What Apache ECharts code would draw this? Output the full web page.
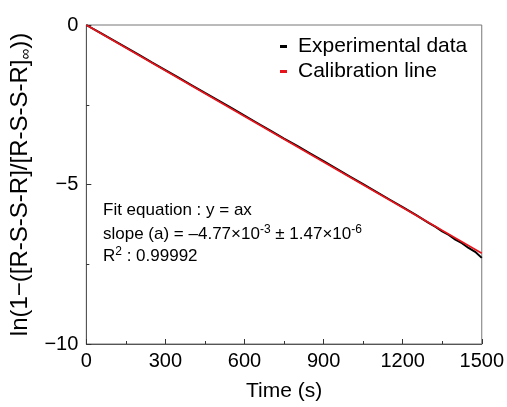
<!DOCTYPE html>
<html><head><meta charset="utf-8">
<script src="https://cdn.jsdelivr.net/npm/echarts@6/dist/echarts.min.js"></script>
<style>html,body{margin:0;padding:0;background:#fff}#c{width:507px;height:407px}</style>
</head><body><div id="c"></div>
<script>
var timeS = [0,50,100,150,200,250,300,350,400,450,500,550,600,650,700,750,800,850,900,950,1000,1050,1100,1150,1200,1250,1300,1325,1350,1375,1400,1425,1450,1475,1500];
var experimental = [0,-0.23,-0.465,-0.70,-0.94,-1.18,-1.415,-1.65,-1.89,-2.13,-2.365,-2.60,-2.84,-3.08,-3.32,-3.56,-3.79,-4.03,-4.27,-4.51,-4.75,-4.99,-5.23,-5.47,-5.71,-5.95,-6.21,-6.33,-6.47,-6.58,-6.73,-6.84,-6.99,-7.11,-7.30];
var calibTime = [0,1500];
var calibration = [0,-7.155];
var legendNames = ['Experimental data','Calibration line'];

var chart = echarts.init(document.getElementById('c'));
var font = 'Liberation Sans, Arial, sans-serif';
function pairs(xs, ys){ return xs.map(function(x,i){return [x, ys[i]];}); }
chart.setOption({
  animation:false,
  textStyle:{fontFamily:font},
  grid:{left:84,right:24,top:25,bottom:61,show:true,borderColor:'#777',borderWidth:1,backgroundColor:'transparent'},
  legend:{
    data:legendNames, orient:'vertical', left:275, top:31, itemGap:4,
    itemWidth:7, itemHeight:3, icon:'rect',
    textStyle:{fontSize:21,fontFamily:font,color:'#000',padding:[0,0,0,6]}
  },
  xAxis:{
    type:'value', min:0, max:1500, interval:300,
    name:'Time (s)', nameLocation:'middle', nameGap:37,
    nameTextStyle:{fontSize:21,fontFamily:font,color:'#000'},
    axisLine:{onZero:false,lineStyle:{color:'#555',width:1}},
    axisTick:{inside:true,length:5,lineStyle:{color:'#333'}},
    minorTick:{show:true,splitNumber:2,length:3,lineStyle:{color:'#333'}},
    axisLabel:{fontSize:20,color:'#000',margin:7,fontFamily:font,formatter:function(v){return String(v);}},
    splitLine:{show:false}
  },
  yAxis:{
    type:'value', min:-10, max:0, interval:5,
    name:'{a|ln(1−([R-S-S-R]/[R-S-S-R]}{s|∞}{a|))}', nameLocation:'middle', nameGap:52, nameRotate:90,
    nameTextStyle:{rich:{a:{fontSize:24,fontFamily:font,color:'#000'},s:{fontSize:15,fontFamily:font,color:'#000',verticalAlign:'bottom',padding:[12,0,0,0]}}},
    axisLine:{onZero:false,lineStyle:{color:'#555',width:1}},
    axisTick:{inside:true,length:5,lineStyle:{color:'#333'}},
    minorTick:{show:true,splitNumber:2,length:3,lineStyle:{color:'#333'}},
    axisLabel:{fontSize:20,color:'#000',margin:8,fontFamily:font,formatter:function(v){return String(v).replace('-','−');}},
    splitLine:{show:false}
  },
  series:[
    {name:legendNames[0],type:'line',data:pairs(timeS,experimental),showSymbol:false,symbol:'none',
     lineStyle:{color:'#000',width:2},itemStyle:{color:'#000'},z:2},
    {name:legendNames[1],type:'line',data:pairs(calibTime,calibration),showSymbol:false,symbol:'none',
     lineStyle:{color:'#e8141b',width:1.7},itemStyle:{color:'#e8141b'},z:3}
  ],
  graphic:[
    {type:'text',left:103,top:202,style:{text:'Fit equation : y = ax',font:'17px '+font,fill:'#000'}},
    {type:'text',left:103,top:224,style:{
      text:'{a|slope (a) = –4.77×10}{s|-3}{a| ± 1.47×10}{s|-6}',
      rich:{a:{fontSize:17,fontFamily:font,color:'#000'},s:{fontSize:12,fontFamily:font,color:'#000',verticalAlign:'top',padding:[0,0,9,0]}}}},
    {type:'text',left:103,top:246,style:{
      text:'{a|R}{s|2}{a| : 0.99992}',
      rich:{a:{fontSize:17,fontFamily:font,color:'#000'},s:{fontSize:12,fontFamily:font,color:'#000',verticalAlign:'top',padding:[0,0,9,0]}}}}
  ]
});
</script></body></html>
